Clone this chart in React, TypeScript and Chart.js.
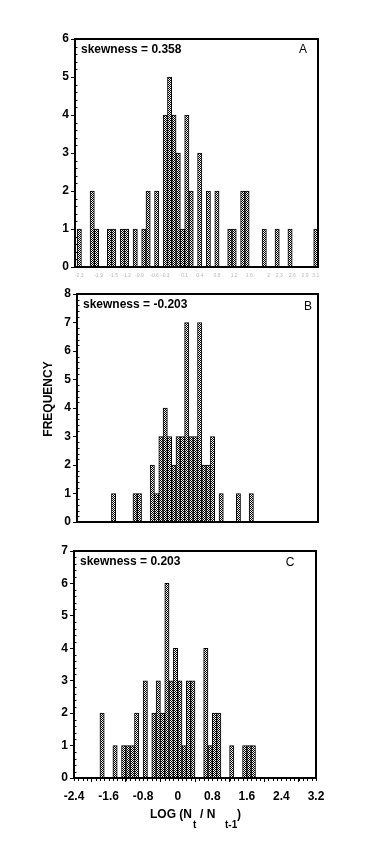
import React, { useEffect, useRef } from "react";
import { Chart, registerables } from "chart.js";

Chart.register(...registerables);

const FONT = "'Liberation Sans', Arial, Helvetica, sans-serif";

// Histogram bin centres (bin width 0.1) shared by the three panels
const BIN_CENTERS = [
  -2.35, -2.25, -2.15, -2.05, -1.95, -1.85, -1.75, -1.65, -1.55, -1.45,
  -1.35, -1.25, -1.15, -1.05, -0.95, -0.85, -0.75, -0.65, -0.55, -0.45,
  -0.35, -0.25, -0.15, -0.05, 0.05, 0.15, 0.25, 0.35, 0.45, 0.55,
  0.65, 0.75, 0.85, 0.95, 1.05, 1.15, 1.25, 1.35, 1.45, 1.55,
  1.65, 1.75, 1.85, 1.95, 2.05, 2.15, 2.25, 2.35, 2.45, 2.55,
  2.65, 2.75, 2.85, 2.95, 3.05, 3.15,
];

const COUNTS_A = [
  1, 0, 0, 2, 1, 0, 0, 1, 1, 0,
  1, 1, 0, 1, 0, 1, 2, 0, 2, 0,
  4, 5, 4, 3, 1, 4, 2, 0, 3, 0,
  2, 0, 2, 0, 0, 1, 1, 0, 2, 2,
  0, 0, 0, 1, 0, 0, 1, 0, 0, 1,
  0, 0, 0, 0, 0, 1,
];

const COUNTS_B = [
  0, 0, 0, 0, 0, 0, 0, 0, 1, 0,
  0, 0, 0, 1, 1, 0, 0, 2, 1, 3,
  4, 3, 2, 3, 3, 7, 3, 3, 7, 2,
  2, 3, 0, 1, 0, 0, 0, 1, 0, 0,
  1, 0, 0, 0, 0, 0, 0, 0, 0, 0,
  0, 0, 0, 0, 0, 0,
];

const COUNTS_C = [
  0, 0, 0, 0, 0, 0, 2, 0, 0, 1,
  0, 1, 1, 1, 2, 0, 3, 0, 2, 3,
  2, 6, 3, 4, 3, 1, 3, 3, 0, 0,
  4, 1, 2, 2, 0, 0, 1, 0, 0, 1,
  1, 1, 0, 0, 0, 0, 0, 0, 0, 0,
  0, 0, 0, 0, 0, 0,
];

const X_TICKS_C = [-2.4, -1.6, -0.8, 0, 0.8, 1.6, 2.4, 3.2];
const X_TICK_LABELS_C = ["-2.4", "-1.6", "-0.8", "0", "0.8", "1.6", "2.4", "3.2"];

const X_TICKS_A = [-2.35, -1.9, -1.55, -1.25, -0.95, -0.6, -0.35, 0.1, 0.45, 0.85, 1.25, 1.6, 2.05, 2.3, 2.6, 2.9, 3.15];
const X_TICK_LABELS_A = ["-2.3", "-1.9", "-1.5", "-1.2", "-0.9", "-0.6", "-0.3", "0.1", "0.4", "0.8", "1.2", "1.6", "2", "2.3", "2.6", "2.9", "3.1"];

const SKEW_A = "skewness = 0.358";
const SKEW_B = "skewness = -0.203";
const SKEW_C = "skewness = 0.203";

const Y_MAX_A = 6;
const Y_MAX_B = 8;
const Y_MAX_C = 7;

const X_TITLE = ["LOG (N", "t", "/ N", "t-1", ")"];
const Y_TITLE = "FREQUENCY";

type Panel = {
  counts: number[];
  yMax: number;
  skew: string;
  letter: string;
  top: number;
  height: number;
  area: { left: number; right: number; top: number; bottom: number };
  xMin: number;
  xMax: number;
  letterDx: number;
  letterDy: number;
  xLabels: "none" | "tiny" | "main";
  yTitle?: boolean;
  xTitle?: boolean;
};

const W = 374;

const PANELS: Panel[] = [
  {
    counts: COUNTS_A, yMax: Y_MAX_A, skew: SKEW_A, letter: "A",
    top: 0, height: 284, area: { left: 75, right: 318, top: 39, bottom: 267 },
    xMin: -2.45, xMax: 3.2, letterDx: 15, letterDy: 11, xLabels: "tiny",
  },
  {
    counts: COUNTS_B, yMax: Y_MAX_B, skew: SKEW_B, letter: "B",
    top: 284, height: 256, area: { left: 77, right: 318, top: 294, bottom: 522 },
    xMin: -2.4, xMax: 3.2, letterDx: 10, letterDy: 13, xLabels: "none", yTitle: true,
  },
  {
    counts: COUNTS_C, yMax: Y_MAX_C, skew: SKEW_C, letter: "C",
    top: 540, height: 324, area: { left: 74, right: 316, top: 551, bottom: 778 },
    xMin: -2.4, xMax: 3.2, letterDx: 26, letterDy: 12, xLabels: "main", xTitle: true,
  },
];

function makePattern(): CanvasPattern | string {
  const c = document.createElement("canvas");
  c.width = 2;
  c.height = 2;
  const g = c.getContext("2d");
  if (!g) return "#999";
  g.fillStyle = "#fff";
  g.fillRect(0, 0, 2, 2);
  g.fillStyle = "#000";
  g.fillRect(0, 0, 1, 1);
  g.fillRect(1, 1, 1, 1);
  return g.createPattern(c, "repeat") || "#999";
}

function decorPlugin(p: Panel) {
  return {
    id: "panelDecor",
    afterDraw(chart: any) {
      const { ctx, chartArea: a, scales } = chart;
      ctx.save();
      ctx.strokeStyle = "#000";
      ctx.lineWidth = 1;
      // minor y ticks (inward)
      for (let i = 1; i < p.yMax * 5; i++) {
        if (i % 5 === 0) continue;
        const y = Math.round(scales.y.getPixelForValue(i / 5)) + 0.5;
        ctx.beginPath();
        ctx.moveTo(a.left, y);
        ctx.lineTo(a.left + 2.5, y);
        ctx.stroke();
      }
      // minor x ticks for the labelled axis
      if (p.xLabels === "main") {
        for (let i = 0; i <= 56; i++) {
          const x = Math.round(scales.x.getPixelForValue(-2.4 + i / 10)) + 0.5;
          ctx.beginPath();
          ctx.moveTo(x, a.bottom);
          ctx.lineTo(x, a.bottom + 3);
          ctx.stroke();
        }
      }
      // frame
      ctx.lineWidth = 2;
      ctx.strokeRect(a.left, a.top, a.right - a.left, a.bottom - a.top);
      // texts
      ctx.fillStyle = "#000";
      ctx.textBaseline = "middle";
      ctx.textAlign = "left";
      ctx.font = `bold 12px ${FONT}`;
      ctx.fillText(p.skew, a.left + 6, a.top + 11);
      ctx.textAlign = "center";
      ctx.font = `12px ${FONT}`;
      ctx.fillText(p.letter, a.right - p.letterDx, a.top + p.letterDy);
      if (p.yTitle) {
        ctx.save();
        ctx.translate(49, (a.top + a.bottom) / 2 - 9);
        ctx.rotate(-Math.PI / 2);
        ctx.font = `bold 12px ${FONT}`;
        ctx.textAlign = "center";
        ctx.fillText(Y_TITLE, 0, 0);
        ctx.restore();
      }
      if (p.xTitle) {
        const cx = (a.left + a.right) / 2;
        const x0 = cx - 45;
        const yMain = a.bottom + 37;
        const ySub = a.bottom + 47;
        ctx.textAlign = "left";
        ctx.font = `bold 12px ${FONT}`;
        ctx.fillText(X_TITLE[0], x0, yMain);
        ctx.font = `bold 10px ${FONT}`;
        ctx.fillText(X_TITLE[1], x0 + 43, ySub);
        ctx.font = `bold 12px ${FONT}`;
        ctx.fillText(X_TITLE[2], x0 + 50, yMain);
        ctx.font = `bold 10px ${FONT}`;
        ctx.fillText(X_TITLE[3], x0 + 75, ySub);
        ctx.font = `bold 12px ${FONT}`;
        ctx.fillText(X_TITLE[4], x0 + 87, yMain);
      }
      ctx.restore();
    },
  };
}

function PanelChart({ p }: { p: Panel }) {
  const ref = useRef<HTMLCanvasElement | null>(null);
  useEffect(() => {
    const canvas = ref.current;
    if (!canvas) return;
    const pattern = makePattern();
    const xTicks = p.xLabels === "main" ? X_TICKS_C : X_TICKS_A;
    const xLabels = p.xLabels === "main" ? X_TICK_LABELS_C : X_TICK_LABELS_A;
    const chart = new Chart(canvas, {
      type: "bar",
      data: {
        datasets: [
          {
            data: BIN_CENTERS.map((x, i) => ({ x, y: p.counts[i] })),
            backgroundColor: pattern as any,
            borderColor: "#000",
            borderWidth: ((c: any) => (c.raw && c.raw.y > 0 ? 1 : 0)) as any,
            borderSkipped: "start",
            barPercentage: 1,
            categoryPercentage: 1,
          } as any,
        ],
      },
      options: {
        animation: false,
        responsive: false,
        maintainAspectRatio: false,
        events: [],
        layout: {
          padding: { left: 0, top: p.area.top - p.top, right: W - p.area.right, bottom: 0 },
        },
        plugins: { legend: { display: false }, tooltip: { enabled: false } },
        scales: {
          x: {
            type: "linear",
            min: p.xMin,
            max: p.xMax,
            offset: false,
            grid: {
              display: p.xLabels === "main",
              drawOnChartArea: false,
              drawTicks: true,
              tickLength: 4,
              color: "#000",
            },
            border: { display: false },
            afterBuildTicks: (s: any) => {
              s.ticks = xTicks.map((v) => ({ value: v }));
            },
            ticks: {
              display: p.xLabels !== "none",
              autoSkip: false,
              maxRotation: 0,
              minRotation: 0,
              padding: p.xLabels === "main" ? 7 : 2,
              color: p.xLabels === "main" ? "#000" : "#b8b8b8",
              font: p.xLabels === "main"
                ? { family: FONT, size: 12, weight: "bold" }
                : { family: FONT, size: 5 },
              callback: (_v: any, i: number) => xLabels[i],
            },
            afterFit: (s: any) => {
              s.height = p.top + p.height - p.area.bottom;
            },
          } as any,
          y: {
            min: 0,
            max: p.yMax,
            grid: {
              drawOnChartArea: false,
              drawTicks: true,
              tickLength: 4,
              color: "#000",
            },
            border: { display: false },
            ticks: {
              stepSize: 1,
              padding: 2,
              color: "#000",
              font: { family: FONT, size: 12, weight: "bold" },
            },
            afterFit: (s: any) => {
              s.width = p.area.left;
            },
          } as any,
        },
      },
      plugins: [decorPlugin(p)],
    });
    return () => chart.destroy();
  }, [p]);
  return (
    <canvas
      ref={ref}
      width={W}
      height={p.height}
      style={{ position: "absolute", left: 0, top: p.top, width: W, height: p.height }}
    />
  );
}

export default function App() {
  return (
    <div style={{ position: "absolute", left: 0, top: 0, width: W, height: 864, background: "#fff" }}>
      {PANELS.map((p) => (
        <PanelChart key={p.letter} p={p} />
      ))}
    </div>
  );
}
